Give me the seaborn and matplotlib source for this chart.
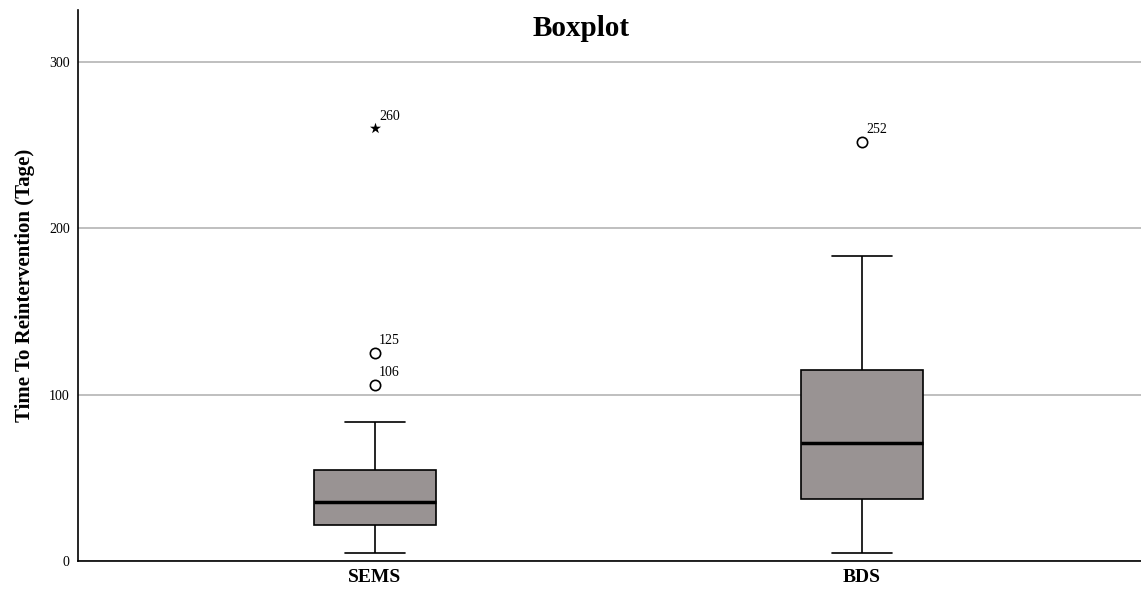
import numpy as np
import pandas as pd
import matplotlib
matplotlib.use("Agg")
import matplotlib.pyplot as plt
import seaborn as sns

# Data
groups = ["SEMS", "BDS"]
# five-number summaries (whisker low, Q1, median, Q3, whisker high)
sems_summary = [5, 21.6, 35.5, 54.7, 83.6]
bds_summary = [5, 37.3, 71, 115, 183.4]
# outliers
outlier_group = ["SEMS", "SEMS", "SEMS", "BDS"]
outlier_value = [106, 125, 260, 252]
outlier_label = ["106", "125", "260", "252"]
outlier_extreme = [False, False, True, False]

yticks = [0, 100, 200, 300]

sns.set_theme(style="white")
plt.rcParams["font.family"] = ["Liberation Serif", "DejaVu Serif"]
plt.rcParams["text.color"] = "black"
plt.rcParams["axes.labelcolor"] = "black"
plt.rcParams["xtick.color"] = "black"
plt.rcParams["ytick.color"] = "black"

df = pd.DataFrame({
    "group": ["SEMS"] * len(sems_summary) + ["BDS"] * len(bds_summary),
    "value": sems_summary + bds_summary,
})

fig = plt.figure(figsize=(11.41, 5.94), dpi=100)
ax = fig.add_axes([78 / 1141, 33 / 594, 1 - 78 / 1141, 551 / 594])

ax.yaxis.grid(True, color="#b4b4b4", linewidth=1.2)
ax.set_axisbelow(True)

sns.boxplot(
    data=df, x="group", y="value", order=groups, ax=ax,
    whis=np.inf, width=0.25, showfliers=False,
    color="#999393", saturation=1,
    boxprops=dict(edgecolor="black", linewidth=1.2),
    whiskerprops=dict(color="black", linewidth=1.2),
    capprops=dict(color="black", linewidth=1.2),
    medianprops=dict(color="black", linewidth=2.5),
)

pos = {g: i for i, g in enumerate(groups)}
for g, v, lab, ext in zip(outlier_group, outlier_value, outlier_label, outlier_extreme):
    x = pos[g]
    if ext:
        ax.scatter([x], [v], marker="*", s=70, color="black", zorder=5, linewidths=0)
    else:
        ax.scatter([x], [v], marker="o", s=55, facecolor="white", edgecolor="black",
                   linewidths=1.2, zorder=5)
    ax.annotate(lab, (x, v), xytext=(3, 4), textcoords="offset points",
                fontsize=10, ha="left", va="bottom", color="black")

ax.set_xlim(-0.61, 1.573)
ax.set_ylim(0, 331)
ax.set_yticks(yticks)
ax.set_yticklabels([str(t) for t in yticks], fontsize=10)
ax.tick_params(axis="both", length=0, pad=6, colors="black")
for lbl in ax.get_xticklabels():
    lbl.set_fontweight("bold")
    lbl.set_fontsize(14)
ax.set_xlabel("")
ax.set_ylabel("Time To Reintervention (Tage)", fontsize=15, fontweight="bold",
              labelpad=10, color="black")

for s in ["top", "right"]:
    ax.spines[s].set_visible(False)
for s in ["left", "bottom"]:
    ax.spines[s].set_color("black")
    ax.spines[s].set_linewidth(1.2)

fig.text(581 / 1141, 1 - 28 / 594, "Boxplot", fontsize=21, fontweight="bold",
         ha="center", va="center", color="black")

fig.savefig("out.png", dpi=100)
